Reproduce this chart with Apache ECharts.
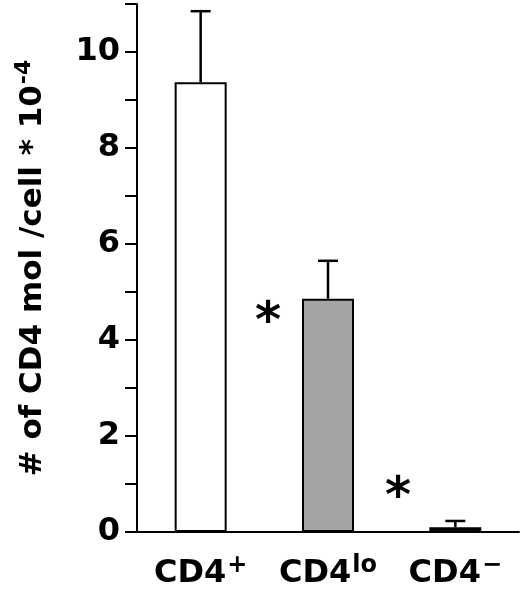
<!DOCTYPE html>
<html>
<head>
<meta charset="utf-8">
<script src="https://cdn.jsdelivr.net/npm/echarts@6/dist/echarts.min.js"></script>
<style>
html,body{margin:0;padding:0;background:#fff;}
#chart{width:520px;height:590px;}
</style>
</head>
<body>
<div id="chart"></div>
<script>
const categories = ['CD4+', 'CD4lo', 'CD4-'];
const catBase = ['CD4', 'CD4', 'CD4'];
const catSup = ['+', 'lo', '\u2212'];
const values = [9.37, 4.86, 0.1];
const errorTops = [10.85, 5.65, 0.23];
const barColors = ['#ffffff', '#a4a4a4', '#111111'];
const yTicks = [0, 2, 4, 6, 8, 10];
// significance stars: [position between categories (fractional index), y value]
const stars = [[0.53, 4.33], [1.55, 0.68]];

const FONT = 'DejaVu Sans';
const chart = echarts.init(document.getElementById('chart'));

const option = {
  animation: false,
  backgroundColor: '#fff',
  grid: { left: 137, right: 1, top: 4, bottom: 58, containLabel: false },
  xAxis: {
    type: 'category',
    data: categories,
    axisLine: { show: true, lineStyle: { color: '#000', width: 2 } },
    axisTick: { show: false },
    axisLabel: {
      margin: 22,
      formatter: function (v, i) { return '{b|' + catBase[i] + '}{s|' + catSup[i] + '}'; },
      rich: {
        b: { fontFamily: FONT, fontWeight: 'bold', fontSize: 32, color: '#000', verticalAlign: 'bottom' },
        s: { fontFamily: FONT, fontWeight: 'bold', fontSize: 24, color: '#000', verticalAlign: 'bottom', padding: [0, 0, 12, 1] }
      }
    }
  },
  yAxis: {
    type: 'value',
    min: 0, max: 11, interval: 1,
    splitLine: { show: false },
    axisLine: { show: true, lineStyle: { color: '#000', width: 2 } },
    axisTick: { show: true, inside: false, length: 12, lineStyle: { color: '#000', width: 2 } },
    axisLabel: {
      margin: 17,
      fontFamily: FONT, fontWeight: 'bold', fontSize: 32, color: '#000',
      formatter: function (v) { return yTicks.indexOf(v) >= 0 ? String(v) : ''; }
    },
    name: '{a|# of CD4 mol /cell * 10}{s|-4}',
    nameLocation: 'middle',
    nameGap: 89,
    nameTextStyle: {
      rich: {
        a: { fontFamily: FONT, fontWeight: 'bold', fontSize: 31, color: '#000', verticalAlign: 'bottom' },
        s: { fontFamily: FONT, fontWeight: 'bold', fontSize: 22, color: '#000', verticalAlign: 'bottom', padding: [0, 0, 13, 1] }
      }
    }
  },
  series: [
    {
      type: 'bar',
      barWidth: 52,
      data: values.map(function (v, i) {
        return { value: v, itemStyle: { color: barColors[i], borderColor: '#000', borderWidth: 2 } };
      }),
      z: 2
    },
    {
      type: 'custom',
      data: values.map(function (v, i) { return [i, v, errorTops[i]]; }),
      renderItem: function (params, api) {
        const base = api.coord([api.value(0), api.value(1)]);
        const top = api.coord([api.value(0), api.value(2)]);
        const hw = 10;
        return {
          type: 'group',
          children: [
            { type: 'line', shape: { x1: base[0], y1: base[1], x2: top[0], y2: top[1] }, style: { stroke: '#000', lineWidth: 2.5 } },
            { type: 'line', shape: { x1: top[0] - hw, y1: top[1], x2: top[0] + hw, y2: top[1] }, style: { stroke: '#000', lineWidth: 2.5 } }
          ]
        };
      },
      z: 1
    },
    {
      type: 'custom',
      data: stars,
      renderItem: function (params, api) {
        const f = api.value(0);
        const i0 = Math.floor(f);
        const p0 = api.coord([i0, api.value(1)]);
        const p1 = api.coord([i0 + 1, api.value(1)]);
        const x = p0[0] + (p1[0] - p0[0]) * (f - i0);
        return {
          type: 'text',
          style: {
            text: '*', x: x, y: p0[1],
            fontFamily: FONT, fontWeight: 'bold', fontSize: 50, fill: '#000',
            align: 'center', verticalAlign: 'middle'
          }
        };
      },
      z: 3
    }
  ]
};
chart.setOption(option);
</script>
</body>
</html>
